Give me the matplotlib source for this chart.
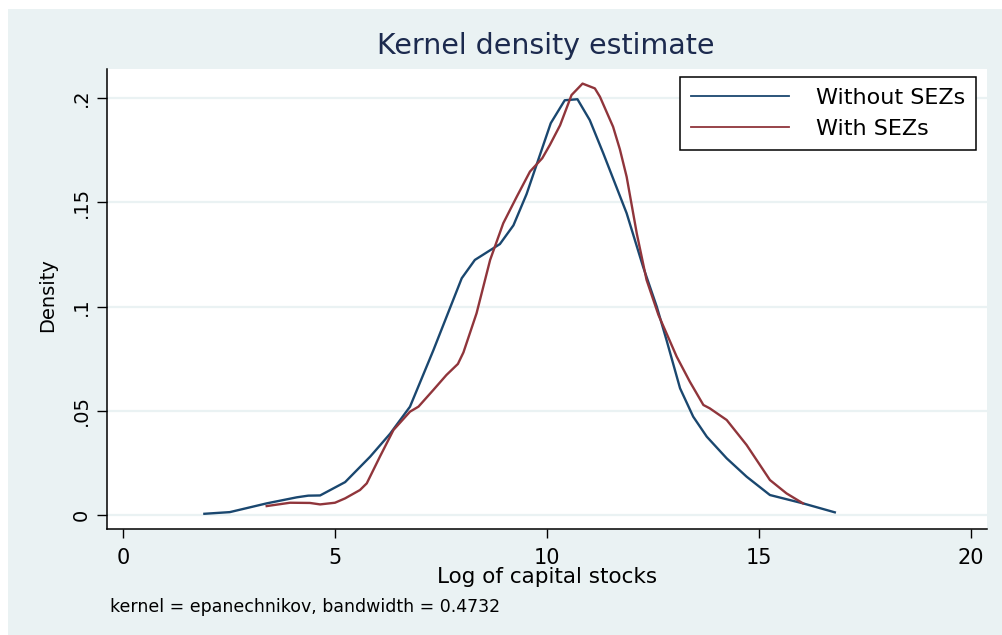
import matplotlib
matplotlib.use("Agg")
import matplotlib.pyplot as plt
from matplotlib.patches import Rectangle
from matplotlib.ticker import FixedLocator, FixedFormatter

# ---- data ----
without_x = [1.92, 2.52, 3.39, 4.10, 4.37, 4.65, 5.24, 5.83, 6.30, 6.77, 7.32, 7.99,
             8.30, 8.89, 9.21, 9.52, 10.09, 10.42, 10.72, 11.01, 11.33, 11.88, 12.27,
             12.59, 12.82, 13.14, 13.45, 13.77, 14.24, 14.71, 15.26, 16.04, 16.79]
without_y = [0.0006, 0.0014, 0.0056, 0.0085, 0.0093, 0.0094, 0.0158, 0.028, 0.039,
             0.052, 0.079, 0.1136, 0.1224, 0.1300, 0.139, 0.154, 0.188, 0.199, 0.1995,
             0.1895, 0.1735, 0.1448, 0.119, 0.100, 0.084, 0.0608, 0.0472, 0.0376,
             0.0272, 0.0184, 0.0096, 0.0056, 0.0013]

with_x = [3.39, 3.94, 4.41, 4.65, 5.0, 5.24, 5.59, 5.75, 6.06, 6.38, 6.77, 6.97, 7.32,
          7.63, 7.90, 8.03, 8.34, 8.66, 8.97, 9.29, 9.60, 9.89, 10.07, 10.31, 10.58,
          10.84, 11.13, 11.25, 11.56, 11.72, 11.88, 12.12, 12.35, 12.63, 12.82, 13.06,
          13.37, 13.69, 13.84, 14.24, 14.71, 15.26, 15.65, 16.04]
with_y = [0.0043, 0.0059, 0.0058, 0.0051, 0.0059, 0.008, 0.012, 0.0152, 0.028, 0.0408,
          0.0496, 0.052, 0.060, 0.0672, 0.0725, 0.078, 0.0968, 0.1224, 0.140, 0.1528,
          0.1648, 0.1712, 0.1776, 0.187, 0.2015, 0.207, 0.2047, 0.2007, 0.1863, 0.1755,
          0.1623, 0.135, 0.1128, 0.096, 0.0872, 0.076, 0.064, 0.0528, 0.0512, 0.0456,
          0.0336, 0.0168, 0.0104, 0.0056]

series_labels = ["Without SEZs", "With SEZs"]
x_ticks = [0, 5, 10, 15, 20]
x_tick_labels = ["0", "5", "10", "15", "20"]
y_ticks = [0, 0.05, 0.1, 0.15, 0.2]
y_tick_labels = ["0", ".05", ".1", ".15", ".2"]
title_text = "Kernel density estimate"
x_label = "Log of capital stocks"
y_label = "Density"
note_text = "kernel = epanechnikov, bandwidth = 0.4732"

# ---- style ----
W, H = 1002, 635
BG = "#EAF2F3"
NAVY = "#1A476F"
MAROON = "#90353B"
plt.rcParams["font.family"] = ["DejaVu Sans"]

fig = plt.figure(figsize=(W / 100, H / 100), dpi=100, facecolor="white")
fig.patches.append(Rectangle((8 / W, 0), 1 - 8 / W, 1 - 9 / H, transform=fig.transFigure,
                             facecolor=BG, edgecolor="none", zorder=-10))

L, R, T, B = 107, 987, 69, 529
ax = fig.add_axes([L / W, 1 - B / H, (R - L) / W, (B - T) / H])
ax.set_zorder(5)
ax.set_facecolor("white")

ax.plot(without_x, without_y, color=NAVY, lw=1.7, label=series_labels[0], zorder=3)
ax.plot(with_x, with_y, color=MAROON, lw=1.7, label=series_labels[1], zorder=3)

ax.set_xlim(-0.377, 20.38)
ax.set_ylim(-0.0067, 0.214)

for s in ["top", "right"]:
    ax.spines[s].set_visible(False)
for s in ["left", "bottom"]:
    ax.spines[s].set_color("black")
    ax.spines[s].set_linewidth(1.1)

ax.xaxis.set_major_locator(FixedLocator(x_ticks))
ax.xaxis.set_major_formatter(FixedFormatter(x_tick_labels))
ax.yaxis.set_major_locator(FixedLocator(y_ticks))
ax.yaxis.set_major_formatter(FixedFormatter(y_tick_labels))

ax.tick_params(axis="x", length=6.5, width=1.0, pad=7, labelsize=15, color="black")
ax.tick_params(axis="y", length=7, width=1.0, pad=4.5, labelsize=14, color="black",
               labelrotation=90)
for lbl in ax.get_yticklabels():
    lbl.set_va("center")

ax.grid(axis="y", color=BG, lw=1.6, zorder=1)
ax.set_axisbelow(True)

ax.set_xlabel(x_label, fontsize=15.5, va="baseline")
ax.xaxis.set_label_coords(0.5, (B - 583) / (B - T))
ax.set_ylabel(y_label, fontsize=14, va="center", rotation=90)
ax.yaxis.set_label_coords((48 - L) / (R - L), (B - 295) / (B - T))

fig.text(546 / W, 1 - 54.5 / H, title_text, fontsize=20.5, color="#1C2A4E",
         ha="center", va="baseline")
fig.text(110 / W, 1 - 611.5 / H, note_text, fontsize=12.5, color="black",
         ha="left", va="baseline")

leg = ax.legend(loc="upper right", bbox_to_anchor=(976 / W, 1 - 77 / H),
                bbox_transform=fig.transFigure, borderaxespad=0, fontsize=16,
                frameon=True, fancybox=False, edgecolor="black", facecolor="white",
                framealpha=1, handlelength=4.4, handletextpad=1.2, borderpad=0.5,
                labelspacing=0.5)
leg.get_frame().set_linewidth(1.1)
for line in leg.get_lines():
    line.set_linewidth(1.3)

fig.savefig("out.png", dpi=100, facecolor="white")
